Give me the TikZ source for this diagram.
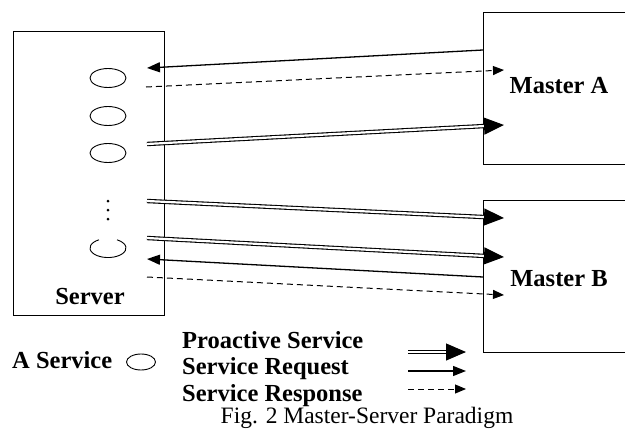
\documentclass[tikz,border=0pt]{standalone}
\usepackage{fontspec}
\setmainfont{Liberation Serif}
\usetikzlibrary{arrows.meta,shapes.geometric}
\begin{document}
\begin{tikzpicture}[x=1pt,y=-1pt,
  box/.style={draw, line width=0.9pt, rectangle, inner sep=0pt},
  svc/.style={draw, ellipse, line width=0.9pt, minimum width=36pt, minimum height=19pt, inner sep=0pt},
  lbl/.style={font=\bfseries\fontsize{24.5}{28}\selectfont, inner sep=0pt},
  proact/.style={double, double distance=2.2pt, line width=1.1pt, -{Triangle[length=20pt,width=17pt]}},
  req/.style={line width=1.3pt, -{Triangle[length=13pt,width=10pt]}},
  resp/.style={line width=1pt, dash pattern=on 6pt off 4pt, -{Triangle[length=11pt,width=9pt]}},
  dot/.style={circle, fill, inner sep=0pt, minimum size=3pt},
]
\useasboundingbox (0,0) rectangle (625,429);
\clip (0,0) rectangle (625,429);
% boxes
\node[box, minimum width=151pt, minimum height=284pt] (server) at (88.5,173) {};
\node[lbl] (serverlbl) at (90,297) {Server};
\node[box, minimum width=153pt, minimum height=152pt] (masterA) at (559.5,88) {};
\node[lbl] (masterAlbl) at (559,86) {Master A};
\node[box, minimum width=153pt, minimum height=152pt] (masterB) at (559.5,276) {};
\node[lbl] (masterBlbl) at (559,279) {Master B};
% services
\node[svc] (s1) at (108,78) {};
\node[svc] (s2) at (108,116) {};
\node[svc] (s3) at (108,153) {};
\node[dot] (d1) at (108,201) {};
\node[dot] (d2) at (108,210) {};
\node[dot] (d3) at (108,219) {};
\coordinate (s4) at (108,248);
\draw[line width=0.9pt] ([shift={(-9pt,8.2pt)}]s4) arc[start angle=120, end angle=420, x radius=18pt, y radius=9.5pt];
% connector endpoints
\coordinate (a1s) at (483,50);   \coordinate (a1e) at (147,68);
\coordinate (a2s) at (146,87);   \coordinate (a2e) at (504,70);
\coordinate (a3s) at (147,144);  \coordinate (a3e) at (504,125);
\coordinate (b1s) at (147,201);  \coordinate (b1e) at (504,218);
\coordinate (b2s) at (147,238);  \coordinate (b2e) at (504,257);
\coordinate (b3s) at (483,277);  \coordinate (b3e) at (147,259);
\coordinate (b4s) at (147,277);  \coordinate (b4e) at (504,295);
\draw[req] (a1s) -- (a1e);
\draw[resp] (a2s) -- (a2e);
\draw[proact] (a3s) -- (a3e);
\draw[proact] (b1s) -- (b1e);
\draw[proact] (b2s) -- (b2e);
\draw[req] (b3s) -- (b3e);
\draw[resp] (b4s) -- (b4e);
% legend
\node[lbl, anchor=west] (legsvc) at (12,360) {A Service};
\node[draw, ellipse, line width=0.9pt, minimum width=29pt, minimum height=16pt, inner sep=0pt] (legell) at (141,362) {};
\node[lbl, anchor=west] (legpro) at (182,340) {Proactive Service};
\node[lbl, anchor=west] (legreq) at (182,369) {Service Request};
\node[lbl, anchor=west] (legres) at (182,396) {Service Response};
\coordinate (l1s) at (408,352); \coordinate (l1e) at (466,352);
\coordinate (l2s) at (408,371); \coordinate (l2e) at (466,371);
\coordinate (l3s) at (408,389); \coordinate (l3e) at (466,389);
\draw[proact] (l1s) -- (l1e);
\draw[req] (l2s) -- (l2e);
\draw[resp] (l3s) -- (l3e);
% caption
\node[font=\fontsize{23.5}{28}\selectfont, inner sep=0pt] (caption) at (367,418) {Fig. 2 Master-Server Paradigm};
\end{tikzpicture}
\end{document}
